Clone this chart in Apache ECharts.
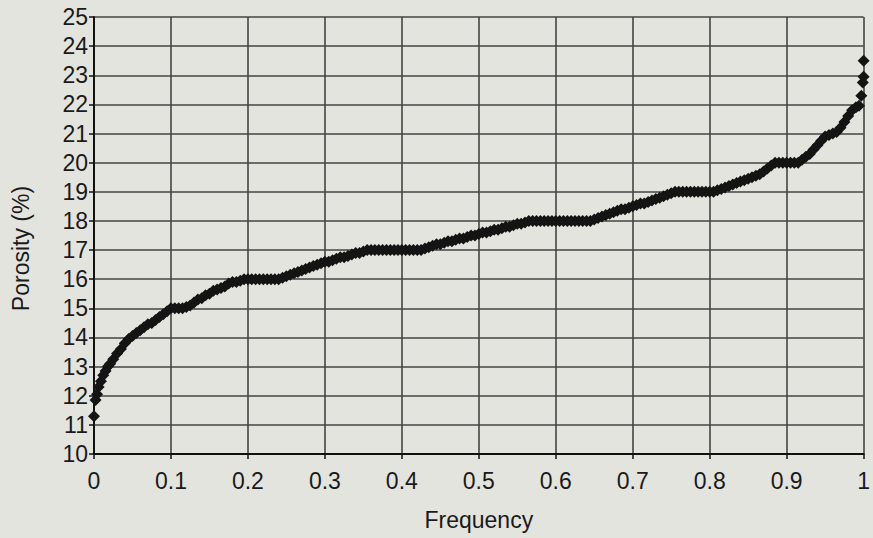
<!DOCTYPE html>
<html>
<head>
<meta charset="utf-8">
<script src="https://cdn.jsdelivr.net/npm/echarts@6/dist/echarts.min.js"></script>
<style>
html,body{margin:0;padding:0;background:#e4e4df;}
#chart{width:873px;height:538px;}
</style>
</head>
<body>
<div id="chart"></div>
<script>
// Frequency (x) and Porosity % (y)
const frequency = [
 0.000,0.002,0.004,0.006,0.009,0.012,0.015,0.018,0.021,0.025,
 0.030,0.035,0.040,0.045,0.050,0.055,0.060,0.065,0.070,0.075,
 0.080,0.085,0.090,0.095,0.100,0.105,0.110,0.115,0.120,0.125,
 0.130,0.135,0.140,0.145,0.150,0.155,0.160,0.165,0.170,0.175,
 0.180,0.185,0.190,0.195,0.200,0.205,0.210,0.215,0.220,0.225,
 0.230,0.235,0.240,0.245,0.250,0.255,0.260,0.265,0.270,0.275,
 0.280,0.285,0.290,0.295,0.300,0.305,0.310,0.315,0.320,0.325,
 0.330,0.335,0.340,0.345,0.350,0.355,0.360,0.365,0.370,0.375,
 0.380,0.385,0.390,0.395,0.400,0.405,0.410,0.415,0.420,0.425,
 0.430,0.435,0.440,0.445,0.450,0.455,0.460,0.465,0.470,0.475,
 0.480,0.485,0.490,0.495,0.500,0.505,0.510,0.515,0.520,0.525,
 0.530,0.535,0.540,0.545,0.550,0.555,0.560,0.565,0.570,0.575,
 0.580,0.585,0.590,0.595,0.600,0.605,0.610,0.615,0.620,0.625,
 0.630,0.635,0.640,0.645,0.650,0.655,0.660,0.665,0.670,0.675,
 0.680,0.685,0.690,0.695,0.700,0.705,0.710,0.715,0.720,0.725,
 0.730,0.735,0.740,0.745,0.750,0.755,0.760,0.765,0.770,0.775,
 0.780,0.785,0.790,0.795,0.800,0.805,0.810,0.815,0.820,0.825,
 0.830,0.835,0.840,0.845,0.850,0.855,0.860,0.865,0.870,0.875,
 0.880,0.885,0.890,0.895,0.900,0.905,0.910,0.915,0.920,0.925,
 0.930,0.935,0.940,0.945,0.950,0.955,0.960,0.965,0.970,0.975,
 0.980,0.985,0.990,0.994,0.997,0.999,1.000,1.000
];
const porosity = [
 11.3,11.85,12.05,12.3,12.5,12.7,12.85,13.0,13.1,13.25,
 13.45,13.6,13.8,13.95,14.05,14.15,14.25,14.35,14.45,14.5,
 14.6,14.7,14.8,14.9,15.0,15.0,15.0,15.0,15.05,15.1,
 15.2,15.3,15.35,15.45,15.5,15.6,15.65,15.7,15.75,15.85,
 15.9,15.9,15.95,16.0,16.0,16.0,16.0,16.0,16.0,16.0,
 16.0,16.0,16.0,16.05,16.1,16.15,16.2,16.25,16.3,16.35,
 16.4,16.45,16.5,16.55,16.6,16.6,16.65,16.7,16.75,16.75,
 16.8,16.85,16.9,16.9,16.95,17.0,17.0,17.0,17.0,17.0,
 17.0,17.0,17.0,17.0,17.0,17.0,17.0,17.0,17.0,17.0,
 17.05,17.1,17.15,17.2,17.2,17.25,17.3,17.3,17.35,17.4,
 17.4,17.45,17.5,17.5,17.55,17.6,17.6,17.65,17.7,17.7,
 17.75,17.8,17.8,17.85,17.9,17.9,17.95,18.0,18.0,18.0,
 18.0,18.0,18.0,18.0,18.0,18.0,18.0,18.0,18.0,18.0,
 18.0,18.0,18.0,18.0,18.05,18.1,18.15,18.2,18.25,18.3,
 18.35,18.4,18.4,18.45,18.5,18.55,18.6,18.6,18.65,18.7,
 18.75,18.8,18.85,18.9,18.95,19.0,19.0,19.0,19.0,19.0,
 19.0,19.0,19.0,19.0,19.0,19.0,19.05,19.1,19.15,19.2,
 19.25,19.3,19.35,19.4,19.45,19.5,19.55,19.6,19.7,19.8,
 19.9,20.0,20.0,20.0,20.0,20.0,20.0,20.0,20.1,20.2,
 20.3,20.45,20.6,20.75,20.9,20.95,21.0,21.05,21.2,21.4,
 21.6,21.8,21.9,21.95,22.3,22.75,22.95,23.5
];
const xTicks = [0,0.1,0.2,0.3,0.4,0.5,0.6,0.7,0.8,0.9,1];
const yTicks = [10,11,12,13,14,15,16,17,18,19,20,21,22,23,24,25];

const points = frequency.map((f, i) => [f, porosity[i]]);
const font = '"Liberation Sans", Arial, Helvetica, sans-serif';
const txt = '#1a1a1a';

const chart = echarts.init(document.getElementById('chart'), null, {renderer: 'svg'});
chart.setOption({
  backgroundColor: '#e4e4df',
  animation: false,
  grid: {left: 94, right: 5, top: 17, bottom: 84, containLabel: false},
  xAxis: {
    type: 'value',
    min: xTicks[0], max: xTicks[xTicks.length - 1], interval: 0.1,
    name: 'Frequency', nameLocation: 'middle', nameGap: 54,
    nameTextStyle: {fontFamily: font, fontSize: 23, color: txt},
    axisLine: {show: true, onZero: false, lineStyle: {color: '#111', width: 2}},
    axisTick: {show: true, inside: false, length: 5, lineStyle: {color: '#111', width: 1.5}},
    axisLabel: {margin: 15, fontFamily: font, fontSize: 23, color: txt,
      formatter: v => String(Math.round(v * 10) / 10)},
    splitLine: {show: true, lineStyle: {color: '#444', width: 1.6}}
  },
  yAxis: {
    type: 'value',
    min: yTicks[0], max: yTicks[yTicks.length - 1], interval: 1,
    name: 'Porosity (%)', nameLocation: 'middle', nameGap: 62,
    nameTextStyle: {fontFamily: font, fontSize: 23, color: txt, padding: [0, 26, 0, 0]},
    axisLine: {show: true, onZero: false, lineStyle: {color: '#111', width: 2}},
    axisTick: {show: true, inside: false, length: 5, lineStyle: {color: '#111', width: 1.5}},
    axisLabel: {margin: 6, fontFamily: font, fontSize: 23, color: txt},
    splitLine: {show: true, lineStyle: {color: '#444', width: 1.6}}
  },
  series: [{
    type: 'scatter',
    data: points,
    symbol: 'diamond',
    symbolSize: 12,
    itemStyle: {color: '#141414', opacity: 1},
    clip: false
  }]
});
</script>
</body>
</html>
